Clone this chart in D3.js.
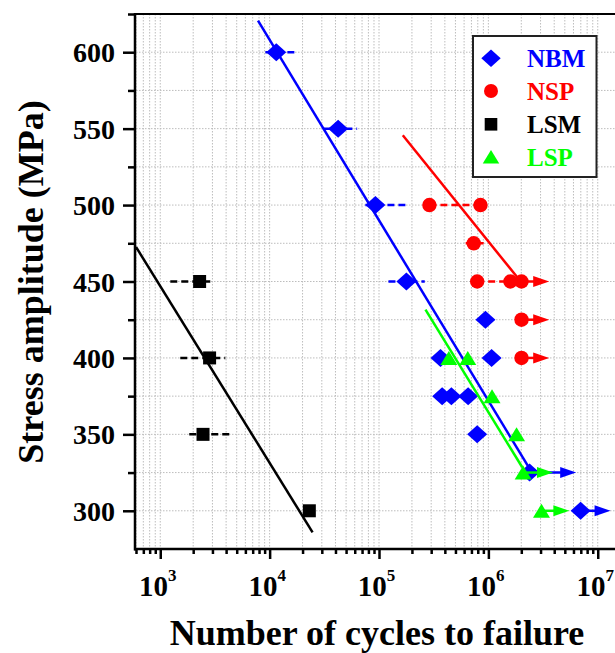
<!DOCTYPE html>
<html>
<head>
<meta charset="utf-8">
<script src="https://cdn.jsdelivr.net/npm/d3@7"></script>
<style>
  html, body { margin: 0; padding: 0; background: #ffffff; }
  svg { display: block; }
  text { font-family: "Liberation Serif", "Times New Roman", serif; font-weight: bold; }
</style>
</head>
<body>
<svg id="chart" width="615" height="653"></svg>
<script>
// ---------------- DATA ----------------
const seriesNames = ["NBM", "NSP", "LSM", "LSP"];

const yTickValues = [300, 350, 400, 450, 500, 550, 600];
const xTickExponents = [3, 4, 5, 6, 7];

// [cycles, stress]
const nbmPoints = [[11500, 600], [42300, 550], [92700, 500], [178000, 450], [940000, 425],
                   [365000, 400], [1070000, 400], [378000, 375], [459000, 375], [653000, 375],
                   [790000, 350], [2380000, 325], [6970000, 300]];
const nspPoints = [[289000, 500], [847000, 500], [735000, 475], [790000, 450], [1590000, 450],
                   [2010000, 450], [2010000, 425], [2010000, 400]];
const lsmPoints = [[2290, 450], [2825, 400], [2460, 350], [23070, 300]];
const lspPoints = [[435000, 400], [648000, 400], [1080000, 375], [1810000, 350], [2080000, 325], [3060000, 300]];

// [stress, low cycles, high cycles]
const nbmErrors = [[600, 9140, 17400], [550, 31000, 63100], [500, 75100, 178000], [450, 122000, 262000]];
const nspErrors = [[500, 289000, 847000], [475, 620000, 920000], [450, 790000, 1590000]];
const lsmErrors = [[450, 1235, 3055], [400, 1524, 3936], [350, 1841, 4276]];
const lspErrors = [];

// run-outs: [cycles, stress, arrow tip cycles]
const nbmRunouts = [[2380000, 325, 6350000], [6970000, 300, 13100000]];
const nspRunouts = [[2010000, 450, 3600000], [2010000, 425, 3600000], [2010000, 400, 3600000]];
const lsmRunouts = [];
const lspRunouts = [[2080000, 325, 3900000], [3060000, 300, 5500000]];

// fitted S-N lines: [cycles, stress]
const nbmFit = [[7830, 620.6], [2380000, 327.6]];
const nspFit = [[165000, 545.7], [1830000, 452.9]];
const lsmFit = [[600, 472.6], [24700, 285.9]];
const lspFit = [[266000, 431.6], [2040000, 328.5]];

// ---------------- STYLE ----------------
const colors = { NBM: "#0000ff", NSP: "#ff0000", LSM: "#000000", LSP: "#00ff00" };
const shapes = { NBM: "diamond", NSP: "circle", LSM: "square", LSP: "triangle" };

const series = [
  { name: "NBM", pts: nbmPoints, err: nbmErrors, run: nbmRunouts, fit: nbmFit },
  { name: "NSP", pts: nspPoints, err: nspErrors, run: nspRunouts, fit: nspFit },
  { name: "LSM", pts: lsmPoints, err: lsmErrors, run: lsmRunouts, fit: lsmFit },
  { name: "LSP", pts: lspPoints, err: lspErrors, run: lspRunouts, fit: lspFit }
];

const L = 136, R = 617, T = 14, B = 549;
const svg = d3.select("#chart");

const x = d3.scaleLog().domain([600, 1.5e7]).range([L, R]);
const y = d3.scaleLinear().domain([275, 625]).range([B, T]);

svg.append("rect").attr("x", L).attr("y", T).attr("width", R - L).attr("height", B - T).attr("fill", "#fff");

svg.append("defs").append("clipPath").attr("id", "clip")
  .append("rect").attr("x", L).attr("y", T).attr("width", R - L).attr("height", B - T);

// minor values for log axis
const minorX = [];
for (let e = 2; e <= 7; e++) {
  for (let k = 1; k <= 9; k++) {
    const v = k * Math.pow(10, e);
    if (v >= 600 && v <= 1.5e7) minorX.push(v);
  }
}
const yMinor = d3.range(300, 626, 25);

// grid
const grid = svg.append("g").attr("clip-path", "url(#clip)");
grid.selectAll("line.vg").data(minorX).enter().append("line")
  .attr("x1", d => x(d)).attr("x2", d => x(d)).attr("y1", T).attr("y2", B)
  .attr("stroke", "#bdbdbd").attr("stroke-width", 1).attr("stroke-dasharray", "1.5,1.5");
grid.selectAll("line.hg").data(yMinor).enter().append("line")
  .attr("x1", L).attr("x2", R).attr("y1", d => y(d)).attr("y2", d => y(d))
  .attr("stroke", "#bdbdbd").attr("stroke-width", 1).attr("stroke-dasharray", "1.5,1.5");

// symbol generator
function symbolPath(shape, cx, cy, s) {
  s = s || 1;
  if (shape === "diamond") {
    const w = 10 * s, h = 9 * s;
    return `M${cx},${cy - h}L${cx + w},${cy}L${cx},${cy + h}L${cx - w},${cy}Z`;
  }
  if (shape === "square") {
    const a = 6.5 * s;
    return `M${cx - a},${cy - a}H${cx + a}V${cy + a}H${cx - a}Z`;
  }
  if (shape === "triangle") {
    const w = 8.5 * s, h = 7 * s;
    return `M${cx},${cy - h}L${cx + w},${cy + h}L${cx - w},${cy + h}Z`;
  }
  const r = 7.2 * s;
  return `M${cx - r},${cy}A${r},${r} 0 1,0 ${cx + r},${cy}A${r},${r} 0 1,0 ${cx - r},${cy}Z`;
}

const plot = svg.append("g").attr("clip-path", "url(#clip)");
const lineGen = d3.line().x(d => x(d[0])).y(d => y(d[1]));

series.forEach(s => {
  const c = colors[s.name];
  const g = plot.append("g");
  // fit line
  g.append("path").datum(s.fit).attr("d", lineGen)
    .attr("fill", "none").attr("stroke", c).attr("stroke-width", 2.5);
  // error bars
  g.selectAll("line.err").data(s.err).enter().append("line")
    .attr("x1", d => x(d[1])).attr("x2", d => x(d[2]))
    .attr("y1", d => y(d[0])).attr("y2", d => y(d[0]))
    .attr("stroke", c).attr("stroke-width", 2.5).attr("stroke-dasharray", "7,4");
  // run-out arrows
  s.run.forEach(d => {
    const x0 = x(d[0]), x1 = x(d[2]), yy = y(d[1]);
    g.append("line").attr("x1", x0).attr("x2", x1 - 12).attr("y1", yy).attr("y2", yy)
      .attr("stroke", c).attr("stroke-width", 2.5);
    g.append("path").attr("d", `M${x1},${yy}L${x1 - 16},${yy - 5.5}L${x1 - 16},${yy + 5.5}Z`)
      .attr("fill", c);
  });
  // markers
  g.selectAll("path.pt").data(s.pts).enter().append("path")
    .attr("d", d => symbolPath(shapes[s.name], x(d[0]), y(d[1])))
    .attr("fill", c);
});

// axes
const xAxis = svg.append("g").attr("transform", `translate(0,${B})`)
  .call(d3.axisBottom(x).tickValues(xTickExponents.map(e => Math.pow(10, e))).tickSize(10).tickPadding(12).tickFormat(""));
xAxis.select(".domain").remove();
xAxis.selectAll(".tick line").attr("stroke", "#000").attr("stroke-width", 2.5);
const xMinorAxis = svg.append("g").attr("transform", `translate(0,${B})`)
  .call(d3.axisBottom(x).tickValues(minorX.filter(v => !xTickExponents.map(e => Math.pow(10, e)).includes(v))).tickSize(5).tickFormat(""));
xMinorAxis.select(".domain").remove();
xMinorAxis.selectAll(".tick line").attr("stroke", "#000").attr("stroke-width", 2.5);

xAxis.selectAll(".tick").each(function (d) {
  const e = Math.round(Math.log10(d));
  const t = d3.select(this).append("text")
    .attr("x", -3).attr("y", 47).attr("text-anchor", "middle")
    .attr("fill", "#000").style("font-size", "29px");
  t.append("tspan").text("10");
  t.append("tspan").attr("dy", -15).style("font-size", "17px").text(String(e));
});

const yAxis = svg.append("g").attr("transform", `translate(${L - 1},0)`)
  .call(d3.axisLeft(y).tickValues(yTickValues).tickSize(12).tickPadding(8).tickFormat(d3.format("d")));
yAxis.select(".domain").remove();
yAxis.selectAll(".tick line").attr("stroke", "#000").attr("stroke-width", 2.5);
yAxis.selectAll(".tick text").attr("fill", "#000").style("font-size", "28px")
  .style("font-family", "'Liberation Serif', serif").style("font-weight", "bold").attr("dy", "0.34em");
const yMinorAxis = svg.append("g").attr("transform", `translate(${L - 1},0)`)
  .call(d3.axisLeft(y).tickValues(yMinor.filter(v => !yTickValues.includes(v))).tickSize(7).tickFormat(""));
yMinorAxis.select(".domain").remove();
yMinorAxis.selectAll(".tick line").attr("stroke", "#000").attr("stroke-width", 2.5);

// frame lines
svg.append("line").attr("x1", L - 1).attr("x2", L - 1).attr("y1", T - 1).attr("y2", B + 1.5)
  .attr("stroke", "#000").attr("stroke-width", 2.5);
svg.append("line").attr("x1", L - 2).attr("x2", 615).attr("y1", B).attr("y2", B)
  .attr("stroke", "#000").attr("stroke-width", 2.5);
svg.append("line").attr("x1", L - 2).attr("x2", 615).attr("y1", T).attr("y2", T)
  .attr("stroke", "#000").attr("stroke-width", 2);

// axis titles
svg.append("text").attr("x", 377).attr("y", 645).attr("text-anchor", "middle")
  .style("font-size", "36px").attr("fill", "#000").text("Number of cycles to failure");
svg.append("text").attr("transform", "translate(43,282) rotate(-90)").attr("text-anchor", "middle")
  .style("font-size", "36px").attr("fill", "#000").text("Stress amplitude (MPa)");

// legend
const lg = svg.append("g");
lg.append("rect").attr("x", 473).attr("y", 36).attr("width", 123.5).attr("height", 141)
  .attr("fill", "#fff").attr("stroke", "#222").attr("stroke-width", 2);
const legendRows = [58.3, 91, 124.3, 156.7];
seriesNames.forEach((n, i) => {
  const cy = legendRows[i];
  lg.append("path").attr("d", symbolPath(shapes[n], 491, cy, n === "LSM" ? 0.97 : 0.97)).attr("fill", colors[n]);
  lg.append("text").attr("x", 527).attr("y", cy + 9).style("font-size", "25px")
    .attr("fill", colors[n]).text(n);
});
</script>
</body>
</html>
